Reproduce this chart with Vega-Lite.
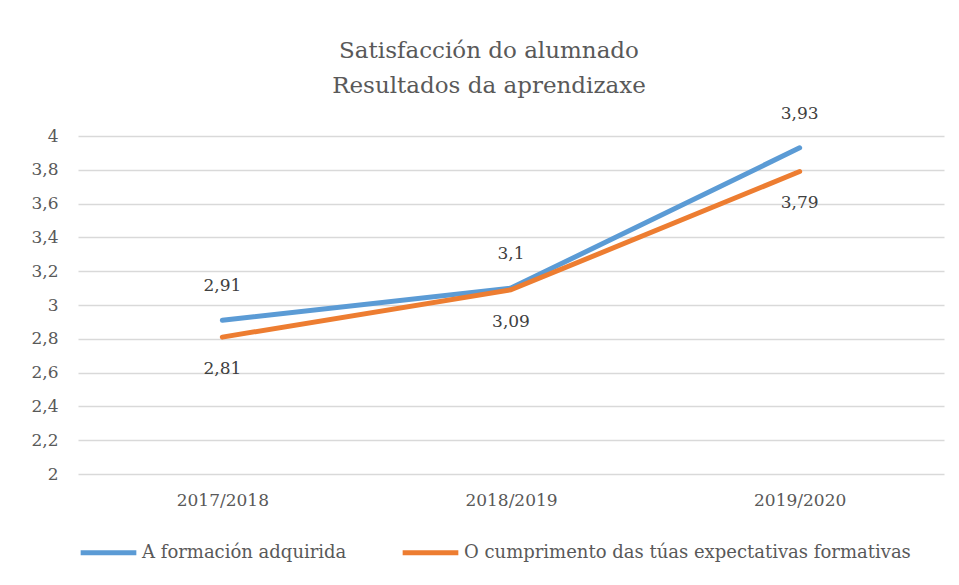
{
  "$schema": "https://vega.github.io/schema/vega-lite/v6.json",
  "width": 866,
  "height": 338,
  "autosize": "none",
  "padding": {"left": 78, "top": 136, "right": 15, "bottom": 111},
  "background": "white",
  "title": {
    "text": ["Satisfacción do alumnado", "Resultados da aprendizaxe"],
    "font": "DejaVu Serif, serif",
    "fontSize": 23,
    "fontWeight": "normal",
    "color": "#595959",
    "lineHeight": 35,
    "anchor": "middle",
    "dx": -22,
    "offset": 7
  },
  "data": {
    "values": [
      {"curso": "2017/2018", "serie": "A formación adquirida", "valor": 2.91},
      {"curso": "2018/2019", "serie": "A formación adquirida", "valor": 3.1},
      {"curso": "2019/2020", "serie": "A formación adquirida", "valor": 3.93},
      {"curso": "2017/2018", "serie": "O cumprimento das túas expectativas formativas", "valor": 2.81},
      {"curso": "2018/2019", "serie": "O cumprimento das túas expectativas formativas", "valor": 3.09},
      {"curso": "2019/2020", "serie": "O cumprimento das túas expectativas formativas", "valor": 3.79}
    ]
  },
  "encoding": {
    "x": {
      "field": "curso", "type": "ordinal", "title": null,
      "axis": {"labelAngle": 0, "domain": false, "ticks": false, "labelPadding": 18, "labelFontSize": 17, "labelFont": "DejaVu Serif, serif", "labelColor": "#595959", "grid": false}
    },
    "y": {
      "field": "valor", "type": "quantitative", "title": null,
      "scale": {"domain": [2, 4], "nice": false, "zero": false},
      "axis": {"values": [2, 2.2, 2.4, 2.6, 2.8, 3, 3.2, 3.4, 3.6, 3.8, 4], "format": ".1~f", "domain": false, "ticks": false, "labelPadding": 20, "labelFontSize": 17, "labelFont": "DejaVu Serif, serif", "labelColor": "#595959", "gridColor": "#D9D9D9", "gridWidth": 1.5}
    }
  },
  "layer": [
    {
      "mark": {"type": "line", "strokeWidth": 5, "strokeCap": "round", "strokeJoin": "round"},
      "encoding": {
        "color": {
          "field": "serie", "type": "nominal",
          "scale": {"domain": ["A formación adquirida", "O cumprimento das túas expectativas formativas"], "range": ["#5B9BD5", "#ED7D31"]},
          "legend": {"title": null, "orient": "bottom", "direction": "horizontal", "symbolType": "stroke", "symbolSize": 3100, "symbolStrokeWidth": 5, "labelFont": "DejaVu Serif, serif", "labelFontSize": 18, "labelColor": "#595959", "offset": 14, "columnPadding": 45, "labelOffset": 3, "labelLimit": 600}
        }
      }
    },
    {
      "transform": [{"filter": "datum.serie === 'A formación adquirida'"}],
      "mark": {"type": "text", "font": "DejaVu Serif, serif", "fontSize": 17, "color": "#404040", "dy": -34, "baseline": "middle"},
      "encoding": {"text": {"field": "valor", "type": "quantitative", "format": "~g"}}
    },
    {
      "transform": [{"filter": "datum.serie !== 'A formación adquirida'"}],
      "mark": {"type": "text", "font": "DejaVu Serif, serif", "fontSize": 17, "color": "#404040", "dy": 32, "baseline": "middle"},
      "encoding": {"text": {"field": "valor", "type": "quantitative", "format": "~g"}}
    }
  ],
  "config": {
    "locale": {"number": {"decimal": ",", "thousands": ".", "grouping": [3], "currency": ["", " €"]}},
    "view": {"stroke": null}
  }
}
